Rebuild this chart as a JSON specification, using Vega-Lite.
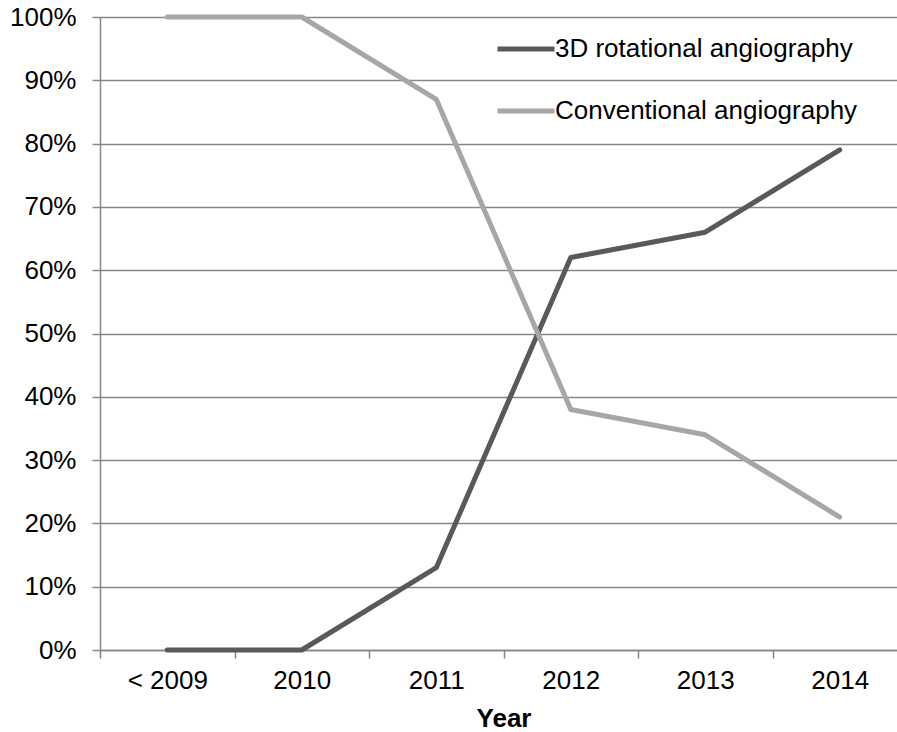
{
  "$schema": "https://vega.github.io/schema/vega-lite/v6.json",
  "width": 797,
  "height": 633,
  "autosize": {"type": "none"},
  "padding": {"left": 100, "top": 17, "right": 0, "bottom": 82},
  "background": "white",
  "config": {
    "view": {"stroke": null},
    "font": "Liberation Sans"
  },
  "data": {
    "values": [
      {"year": "< 2009", "series": "3D rotational angiography", "value": 0},
      {"year": "2010", "series": "3D rotational angiography", "value": 0},
      {"year": "2011", "series": "3D rotational angiography", "value": 0.13},
      {"year": "2012", "series": "3D rotational angiography", "value": 0.62},
      {"year": "2013", "series": "3D rotational angiography", "value": 0.66},
      {"year": "2014", "series": "3D rotational angiography", "value": 0.79},
      {"year": "< 2009", "series": "Conventional angiography", "value": 1.0},
      {"year": "2010", "series": "Conventional angiography", "value": 1.0},
      {"year": "2011", "series": "Conventional angiography", "value": 0.87},
      {"year": "2012", "series": "Conventional angiography", "value": 0.38},
      {"year": "2013", "series": "Conventional angiography", "value": 0.34},
      {"year": "2014", "series": "Conventional angiography", "value": 0.21}
    ]
  },
  "mark": {"type": "line", "strokeWidth": 5, "strokeCap": "round", "strokeJoin": "round", "clip": false},
  "encoding": {
    "x": {
      "field": "year",
      "type": "ordinal",
      "sort": ["< 2009", "2010", "2011", "2012", "2013", "2014"],
      "scale": {"type": "band", "range": [0, 807], "paddingInner": 0, "paddingOuter": 0},
      "axis": {
        "title": "Year",
        "titleFont": "Liberation Sans",
        "titleFontSize": 26,
        "titleFontWeight": "bold",
        "titleColor": "#000000",
        "titlePadding": 12,
        "labelFont": "Liberation Sans",
        "labelFontSize": 26,
        "labelColor": "#000000",
        "labelAngle": 0,
        "labelPadding": 9,
        "tickBand": "extent",
        "tickSize": 8,
        "tickColor": "#868686",
        "tickWidth": 1.5,
        "domainColor": "#868686",
        "domainWidth": 1.5,
        "grid": false
      }
    },
    "y": {
      "field": "value",
      "type": "quantitative",
      "scale": {"domain": [0, 1], "nice": false},
      "axis": {
        "title": null,
        "format": ".0%",
        "values": [0, 0.1, 0.2, 0.3, 0.4, 0.5, 0.6, 0.7, 0.8, 0.9, 1.0],
        "labelFont": "Liberation Sans",
        "labelFontSize": 26,
        "labelColor": "#000000",
        "labelPadding": 16,
        "tickSize": 8,
        "tickColor": "#868686",
        "tickWidth": 1.5,
        "domainColor": "#868686",
        "domainWidth": 1.5,
        "grid": true,
        "gridColor": "#868686",
        "gridWidth": 1.5
      }
    },
    "color": {
      "field": "series",
      "type": "nominal",
      "scale": {"domain": ["3D rotational angiography", "Conventional angiography"], "range": ["#595959", "#a6a6a6"]},
      "legend": {
        "title": null,
        "orient": "none",
        "legendX": 395,
        "legendY": 1,
        "padding": 0,
        "symbolType": "stroke",
        "symbolSize": 3249,
        "symbolStrokeWidth": 5,
        "labelFont": "Liberation Sans",
        "labelFontSize": 26,
        "labelColor": "#000000",
        "labelOffset": -2,
        "rowPadding": 18,
        "labelLimit": 400
      }
    }
  }
}
